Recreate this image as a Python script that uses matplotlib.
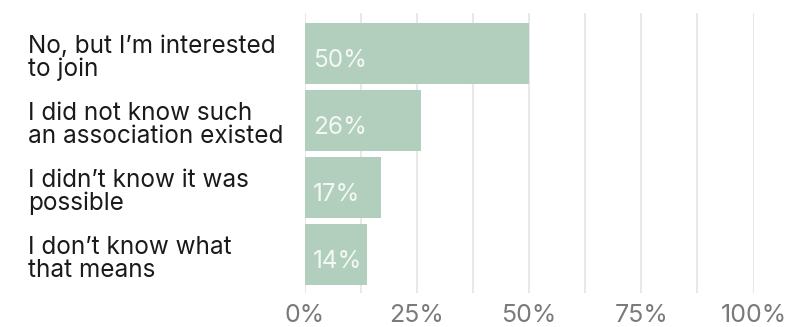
import matplotlib.pyplot as plt
from matplotlib.ticker import MultipleLocator

categories = [
    "No, but I\u2019m interested\nto join",
    "I did not know such\nan association existed",
    "I didn\u2019t know it was\npossible",
    "I don\u2019t know what\nthat means",
]
values = [50, 26, 17, 14]
x_ticks = [0, 25, 50, 75, 100]
x_tick_labels = ["0%", "25%", "50%", "75%", "100%"]

bar_color = "#b2cfbe"
grid_color = "#e8e8e8"

plt.rcParams["font.family"] = ["Inter", "DejaVu Sans"]

fig = plt.figure(figsize=(7.91, 3.27), dpi=100)
ax = fig.add_axes([0.385, 0.104, 0.5677, 0.856])

y = list(range(len(categories)))
ax.barh(y, values, height=0.91, color=bar_color, zorder=2)

ax.set_xlim(0, 100)
ax.set_ylim(3.575, -0.604)

# light vertical grid every 12.5%, labels only every 25%
ax.xaxis.set_minor_locator(MultipleLocator(12.5))
ax.set_xticks(x_ticks)
ax.set_xticklabels(x_tick_labels, fontsize=18, color="#7a7a7a")
ax.grid(axis="x", which="both", color=grid_color, linewidth=1.5, zorder=0)
ax.tick_params(axis="x", which="both", length=0, pad=8)
ax.set_yticks([])
for side in ax.spines.values():
    side.set_visible(False)

for i, (cat, val) in enumerate(zip(categories, values)):
    ax.text(-0.616, i + 0.07, cat, transform=ax.get_yaxis_transform(),
            ha="left", va="center", fontsize=17.5, color="#1a1a1a",
            linespacing=0.98)
    ax.text(1.9, i + 0.11, f"{val}%", ha="left", va="center",
            fontsize=17.5, color="#f4f8f5", zorder=3)

fig.savefig("out.png", dpi=100)
